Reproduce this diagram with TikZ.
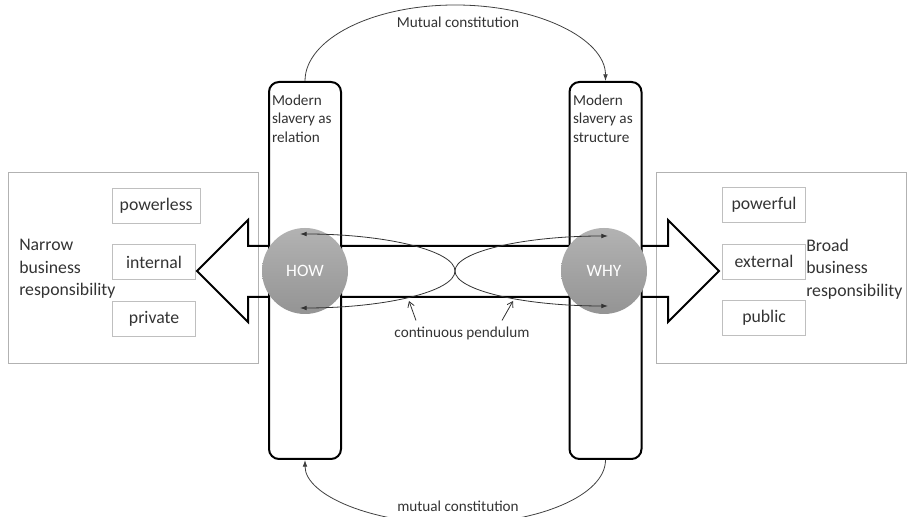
\documentclass[tikz,border=0pt]{standalone}
\usepackage{fontspec}
\setmainfont{Carlito}
\usetikzlibrary{positioning,arrows.meta}

\begin{document}
\begin{tikzpicture}[x=0.75pt,y=0.75pt,
    big/.style={font=\fontsize{13.3}{16.9}\selectfont,text=black!80},
    small/.style={font=\fontsize{11.4}{14}\selectfont,text=black!80},
    word/.style={draw=black!25,line width=0.6pt,rectangle,minimum width=62.5pt,minimum height=26.25pt,inner xsep=5.5pt,big,anchor=west},
    frame/.style={draw=black!30,line width=0.6pt,rectangle,minimum width=187.5pt,minimum height=143.25pt},
    pillar/.style={draw,line width=1.5pt,rounded corners=7.5pt,rectangle,fill=white,minimum width=54pt,minimum height=282.75pt},
    pillarlab/.style={small,anchor=north west,align=left,inner sep=0pt},
    ball/.style={circle,minimum size=64.5pt,inner sep=0pt,top color=black!30,bottom color=black!42,text=white,font=\fontsize{13}{16}\selectfont},
    swing/.style={line width=0.6pt,black!80,{Latex[length=5pt,width=3.5pt]}-{Latex[length=5pt,width=3.5pt]}},
    link/.style={line width=0.6pt,black!75,-{Latex[length=5pt,width=3.5pt]}},
    pointer/.style={line width=0.6pt,black!80,-{Straight Barb[length=4pt,width=5pt]}},
  ]
    \useasboundingbox (0,0) rectangle (908,517);

    \node[frame] (narrowframe) at (133,249.5) {};
    \node[frame] (broadframe) at (781,249.5) {};

    \node[word] (powerless) at (112,311.5) {powerless};
    \node[word] (internal) at (112,255) {internal};
    \node[word] (private) at (112,198.5) {private};

    \node[word] (powerful) at (722,312.5) {powerful};
    \node[word] (external) at (722,255.5) {external};
    \node[word] (public) at (722,199.5) {public};

    \node[big,align=left,anchor=west,inner sep=0pt] (narrow) at (19,248) {Narrow\\business\\responsibility};
    \node[big,align=left,anchor=west,inner sep=0pt] (broad) at (806,248) {Broad\\business\\responsibility};

    \draw[line width=1.5pt,line join=miter] (197,246) -- (248,297) -- (248,271) -- (668,271) -- (668,297)
        -- (719,246) -- (668,195) -- (668,220) -- (248,220) -- (248,195) -- cycle;

    \node[pillar] (rel) at (305,246.5) {};
    \node[pillar] (str) at (605.5,246.5) {};
    \node[pillarlab] (rellab) at ([xshift=2.8pt,yshift=-10pt]rel.north west) {Modern\\slavery as\\relation};
    \node[pillarlab] (strlab) at ([xshift=3.2pt,yshift=-10pt]str.north west) {Modern\\slavery as\\structure};

    \node[ball] (how) at (305,246) {HOW};
    \node[ball] (why) at (604,246) {WHY};

    \coordinate (howtop) at (300,283);
    \coordinate (whytop) at (608,281);
    \draw[swing] (howtop) arc[start angle=90,end angle=-90,x radius=155,y radius=37];
    \draw[swing] (whytop) arc[start angle=90,end angle=270,x radius=153,y radius=35];

    \node[small] (pend) at (462,184) {continuous pendulum};
    \coordinate (leftswing) at (409,216);
    \coordinate (rightswing) at (513,216);
    \draw[pointer] ([xshift=-34.5pt,yshift=1pt]pend.north) -- (leftswing);
    \draw[pointer] ([xshift=30pt,yshift=1pt]pend.north) -- (rightswing);

    \draw[link] (rel.north) arc[start angle=180,end angle=0,x radius=150.25,y radius=76];
    \node[small] (mctop) at (458,495) {Mutual constitution};
    \draw[link] (str.south) arc[start angle=0,end angle=-180,x radius=150.25,y radius=64];
    \node[small] (mcbottom) at (458,11) {mutual constitution};
\end{tikzpicture}
\end{document}
